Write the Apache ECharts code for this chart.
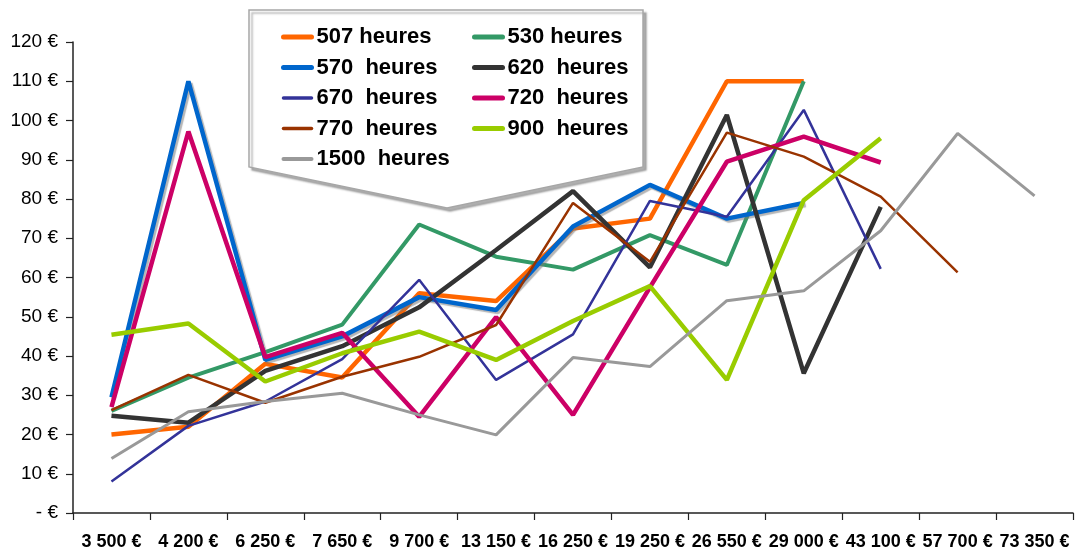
<!DOCTYPE html>
<html>
<head>
<meta charset="utf-8">
<style>
  html, body { margin: 0; padding: 0; background: #fff; }
  #chart { width: 1075px; height: 552px; }
</style>
<script src="https://cdn.jsdelivr.net/npm/echarts@6/dist/echarts.min.js"></script>
</head>
<body>
<div id="chart"></div>
<script>
// Revenu (catégories de l'axe horizontal)
const categories = ['3 500 €', '4 200 €', '6 250 €', '7 650 €', '9 700 €', '13 150 €', '16 250 €',
  '19 250 €', '26 550 €', '29 000 €', '43 100 €', '57 700 €', '73 350 €'];

// Valeurs par durée (null = pas de point)
const h507  = [20, 22, 38, 34.5, 56, 54, 72.5, 75, 110, 110, null, null, null];
const h530  = [26, 34.5, 41, 48, 73.5, 65.3, 62, 70.8, 63.2, 110, null, null, null];
const h570  = [29.5, 110, 39, 45, 55, 51.7, 73, 83.6, 75, 79, null, null, null];
const h620  = [24.8, 23, 36.2, 42.5, 52.4, 67, 82, 62.6, 101.4, 35.6, 78, null, null];
const h670  = [8, 22.2, 28.4, 39.2, 59.4, 33.9, 45.5, 79.5, 75.5, 102.7, 62.2, null, null];
const h720  = [27, 97.2, 39.7, 45.9, 24.5, 49.9, 25, 57.5, 89.5, 95.9, 89.3, null, null];
const h770  = [26.2, 35.2, 28.1, 34.7, 39.8, 47.9, 79, 64, 96.9, 90.8, 80.6, 61.3, null];
const h900  = [45.4, 48.3, 33.5, 40.7, 46.2, 39, 48.9, 57.8, 33.9, 79.7, 95.5, null, null];
const h1500 = [13.9, 25.8, 28.4, 30.5, 25, 19.9, 39.6, 37.3, 54.1, 56.6, 71.9, 96.7, 80.8];

// Graduations de l'axe vertical
const yTicks = [0, 10, 20, 30, 40, 50, 60, 70, 80, 90, 100, 110, 120];

const font = "'Liberation Sans', Arial, sans-serif";

function line(name, data, color, width, extra) {
  return Object.assign({
    name: name,
    type: 'line',
    data: data,
    symbol: 'none',
    connectNulls: false,
    lineStyle: { color: color, width: width },
    itemStyle: { color: color },
    emphasis: { disabled: true }
  }, extra || {});
}

const series = [
  line('507 heures', h507, '#FF6600', 4.5),
  line('530 heures', h530, '#339966', 4),
  line('570  heures', h570, '#0066CC', 4.5, {
    lineStyle: { color: '#0066CC', width: 4.5, shadowColor: 'rgba(120,120,120,0.55)', shadowOffsetX: 2, shadowOffsetY: 2, shadowBlur: 1 }
  }),
  line('620  heures', h620, '#333333', 4.5),
  line('670  heures', h670, '#333399', 2.5),
  line('720  heures', h720, '#CC0066', 4.5),
  line('770  heures', h770, '#993300', 2.5),
  line('900  heures', h900, '#99CC00', 4.5),
  line('1500  heures', h1500, '#999999', 3)
];

// Épaisseur du trait dans la légende
function legendItem(name, w) {
  return { name: name, lineStyle: { width: w, cap: 'round' } };
}

const legendBase = {
  orient: 'vertical',
  top: 26,
  z: 10,
  padding: 0,
  itemWidth: 28,
  itemHeight: 14,
  itemGap: 8.5,
  selectedMode: false,
  itemStyle: { opacity: 0 },
  textStyle: { fontFamily: font, fontWeight: 'bold', fontSize: 22, color: '#000', lineHeight: 22 }
};

const chart = echarts.init(document.getElementById('chart'), null, { renderer: 'canvas' });
chart.setOption({
  backgroundColor: '#ffffff',
  animation: false,
  grid: { left: 73, right: 2, top: 42, bottom: 39, containLabel: false },
  xAxis: {
    type: 'category',
    data: categories,
    boundaryGap: true,
    axisLine: { lineStyle: { color: '#222', width: 1.5 } },
    axisTick: { show: true, length: 7, lineStyle: { color: '#222', width: 1.2 } },
    axisLabel: { interval: 0, margin: 20, fontFamily: font, fontWeight: 'bold', fontSize: 18, color: '#000' }
  },
  yAxis: {
    type: 'value',
    min: yTicks[0],
    max: yTicks[yTicks.length - 1],
    interval: 10,
    splitLine: { show: false },
    axisLine: { show: true, lineStyle: { color: '#222', width: 1.5 } },
    axisTick: { show: true, length: 7, lineStyle: { color: '#222', width: 1.2 } },
    axisLabel: {
      margin: 15, fontFamily: font, fontSize: 19, color: '#000',
      formatter: v => (v === 0 ? '- €' : v + ' €')
    }
  },
  legend: [
    Object.assign({}, legendBase, { left: 281, data: [
      legendItem('507 heures', 5), legendItem('570  heures', 5), legendItem('670  heures', 3.5),
      legendItem('770  heures', 3.5), legendItem('1500  heures', 4)] }),
    Object.assign({}, legendBase, { left: 472, data: [
      legendItem('530 heures', 5), legendItem('620  heures', 5), legendItem('720  heures', 5),
      legendItem('900  heures', 5)] })
  ],
  graphic: [{
    type: 'polygon',
    z: 3,
    shape: { points: [[249, 10], [643, 10], [643, 167], [447, 208], [249, 167]] },
    style: {
      fill: '#ffffff', stroke: '#a6a6a6', lineWidth: 1.5,
      shadowColor: 'rgba(0,0,0,0.3)', shadowOffsetX: 3, shadowOffsetY: 3, shadowBlur: 2
    }
  }],
  series: series
});
</script>
</body>
</html>
